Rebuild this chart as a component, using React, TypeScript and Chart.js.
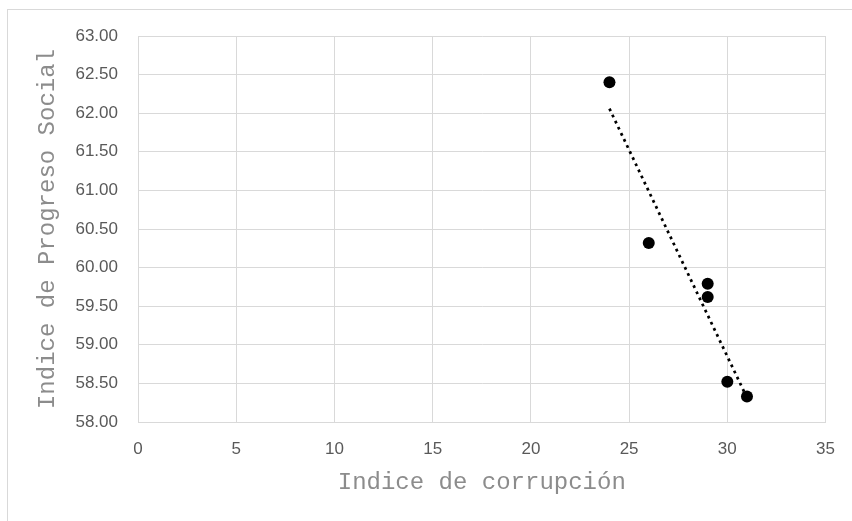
import React, { useEffect, useRef } from "react";
import { Chart, registerables } from "chart.js";

Chart.register(...registerables);

const corruption = [24, 26, 29, 29, 30, 31];
const progress = [62.4, 60.32, 59.79, 59.62, 58.52, 58.33];
const xTitle = "Indice de corrupción";
const yTitle = "Indice de Progreso Social";

function trendline(xs: number[], ys: number[]) {
  const n = xs.length;
  const mx = xs.reduce((a, b) => a + b, 0) / n;
  const my = ys.reduce((a, b) => a + b, 0) / n;
  let sxy = 0;
  let sxx = 0;
  for (let i = 0; i < n; i++) {
    sxy += (xs[i] - mx) * (ys[i] - my);
    sxx += (xs[i] - mx) * (xs[i] - mx);
  }
  const b = sxy / sxx;
  const a = my - b * mx;
  const x0 = Math.min(...xs);
  const x1 = Math.max(...xs);
  return [
    { x: x0, y: a + b * x0 },
    { x: x1, y: a + b * x1 },
  ];
}

export default function App() {
  const ref = useRef<HTMLCanvasElement | null>(null);

  useEffect(() => {
    document.body.style.margin = "0";
    const canvas = ref.current;
    if (!canvas) return;
    const points = corruption.map((x, i) => ({ x, y: progress[i] }));
    const chart = new Chart(canvas, {
      type: "scatter",
      data: {
        datasets: [
          {
            data: points,
            backgroundColor: "#000000",
            borderColor: "#000000",
            pointRadius: 6,
            pointHoverRadius: 6,
            borderWidth: 0,
          },
          {
            data: trendline(corruption, progress),
            showLine: true,
            borderColor: "#000000",
            borderWidth: 2.75,
            borderDash: [2.75, 4],
            pointRadius: 0,
            pointHoverRadius: 0,
            fill: false,
          } as any,
        ],
      },
      options: {
        animation: false,
        responsive: false,
        maintainAspectRatio: false,
        events: [],
        layout: { padding: { left: 0, right: 26, top: 36, bottom: 0 } },
        plugins: {
          legend: { display: false },
          tooltip: { enabled: false },
          title: { display: false },
        },
        scales: {
          x: {
            type: "linear",
            min: 0,
            max: 35,
            afterFit: (s: any) => {
              s.height = 99;
            },
            ticks: {
              stepSize: 5,
              padding: 17,
              color: "#595959",
              font: { family: "'Liberation Sans', Arial, sans-serif", size: 17 },
              maxRotation: 0,
            },
            grid: { color: "#d9d9d9", lineWidth: 1, drawTicks: false },
            border: { color: "#d9d9d9", width: 1 },
            title: {
              display: true,
              text: xTitle,
              color: "#8c8c8c",
              font: { family: "'Liberation Mono', 'Courier New', monospace", size: 24 },
              padding: { top: 0, bottom: 24 },
            },
          },
          y: {
            type: "linear",
            min: 58,
            max: 63,
            afterFit: (s: any) => {
              s.width = 138;
            },
            ticks: {
              stepSize: 0.5,
              padding: 20,
              color: "#595959",
              font: { family: "'Liberation Sans', Arial, sans-serif", size: 17 },
              callback: (v: any) => Number(v).toFixed(2),
            },
            grid: { color: "#d9d9d9", lineWidth: 1, drawTicks: false },
            border: { color: "#d9d9d9", width: 1 },
            title: {
              display: true,
              text: yTitle,
              color: "#8c8c8c",
              font: { family: "'Liberation Mono', 'Courier New', monospace", size: 24 },
              padding: { top: 33, bottom: 0 },
            },
          },
        },
      },
    });
    return () => chart.destroy();
  }, []);

  return (
    <div
      style={{
        position: "relative",
        width: 852,
        height: 521,
        overflow: "hidden",
        background: "#ffffff",
      }}
    >
      <div
        style={{
          position: "absolute",
          left: 7,
          top: 9,
          width: 900,
          height: 600,
          borderLeft: "1px solid #d9d9d9",
          borderTop: "1px solid #d9d9d9",
        }}
      />
      <canvas
        ref={ref}
        width={852}
        height={521}
        style={{ position: "absolute", left: 0, top: 0, width: 852, height: 521 }}
      />
    </div>
  );
}
